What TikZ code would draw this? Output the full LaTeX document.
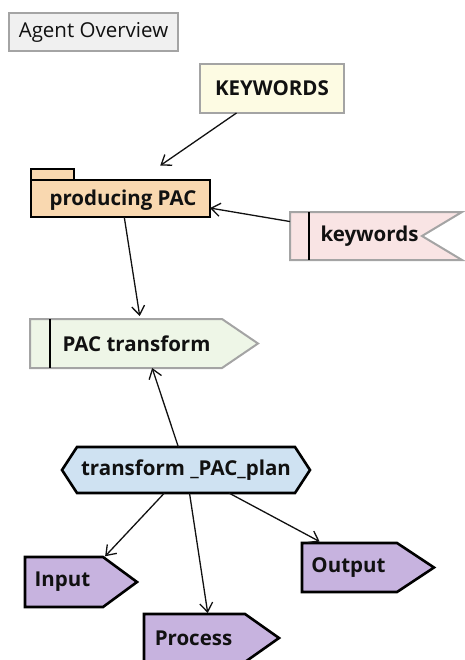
\documentclass[tikz,border=0pt]{standalone}
\usepackage{fontspec}
\setmainfont{Open Sans}
\usetikzlibrary{arrows.meta,backgrounds}

\definecolor{ovfill}{HTML}{F0F0F0}
\definecolor{grayline}{HTML}{A4A4A4}
\definecolor{notefill}{HTML}{FDFBE3}
\definecolor{pkgfill}{HTML}{F9D8B0}
\definecolor{pinkfill}{HTML}{F9E4E4}
\definecolor{greenfill}{HTML}{EEF6E7}
\definecolor{bluefill}{HTML}{CFE2F2}
\definecolor{purplefill}{HTML}{C7B3DF}
\definecolor{ink}{HTML}{111111}

\begin{document}
\begin{tikzpicture}[x=1pt,y=-1pt,
  frame/.style={rectangle, inner sep=0pt, outer sep=0pt},
  txt/.style={font=\bfseries\fontsize{20.5}{24}\selectfont, text=ink},
  grayedge/.style={draw=grayline, line width=2pt, line join=miter},
  blackedge/.style={draw=black, line width=2.6pt, line join=miter},
  bar/.style={draw=black, line width=2.6pt},
  conn/.style={draw=ink, line width=1.3pt,
    -{Straight Barb[length=9pt,width=13pt,line width=1.3pt]}}
]
\useasboundingbox (0,0) rectangle (464,660);

% title box
\node[frame, minimum width=169pt, minimum height=38pt, fill=ovfill,
      draw=grayline, line width=1.5pt, text=ink,
      font=\fontsize{20.5}{24}\selectfont] (ov) at (93.5,32) {Agent Overview};

% note
\node[frame, minimum width=144pt, minimum height=49pt, fill=notefill,
      grayedge, txt] (KW) at (272,88.5) {KEYWORDS};

% package
\node[frame, minimum width=179pt, minimum height=48pt,
      label={[txt, xshift=2.5pt, yshift=-7pt]center:producing PAC}] (pp) at (120.5,193) {};

% accept-event (notched) signal
\node[frame, minimum width=172pt, minimum height=48pt,
      label={[txt, xshift=-6.5pt]center:keywords}] (kw) at (376,236) {};

% send signal
\node[frame, minimum width=228pt, minimum height=49pt,
      label={[txt, xshift=-7.5pt]center:PAC transform}] (pt) at (144,343.5) {};

% hexagon
\node[frame, minimum width=248pt, minimum height=46pt,
      label={[txt]center:transform \_PAC\_plan}] (tp) at (186,470) {};

% output pentagons
\node[frame, minimum width=112pt, minimum height=50pt,
      label={[txt, xshift=-18.5pt]center:Input}] (in) at (81,582) {};
\node[frame, minimum width=135pt, minimum height=48pt,
      label={[txt, xshift=-18pt]center:Process}] (pr) at (211.5,638) {};
\node[frame, minimum width=132pt, minimum height=49pt,
      label={[txt, xshift=-19.5pt]center:Output}] (out) at (368,567.5) {};

\begin{scope}[on background layer]
  % package body and tab
  \path[fill=pkgfill, blackedge] ([yshift=-11pt]pp.north west) -- ([yshift=-11pt]pp.north east)
       -- (pp.south east) -- (pp.south west) -- cycle;
  \path[fill=pkgfill, blackedge] (pp.north west) rectangle ([xshift=43pt,yshift=-11pt]pp.north west);
  % notched signal
  \path[fill=pinkfill, grayedge] (kw.north west) -- (kw.north east) -- ([xshift=-40pt]kw.east)
       -- (kw.south east) -- (kw.south west) -- cycle;
  \draw[bar] ([xshift=19pt]kw.north west) -- ([xshift=19pt]kw.south west);
  % send signal
  \path[fill=greenfill, grayedge] (pt.north west) -- ([xshift=-36pt]pt.north east) -- (pt.east)
       -- ([xshift=-36pt]pt.south east) -- (pt.south west) -- cycle;
  \draw[bar] ([xshift=20pt]pt.north west) -- ([xshift=20pt]pt.south west);
  % hexagon
  \path[fill=bluefill, blackedge] (tp.west) -- ([xshift=15pt]tp.north west) -- ([xshift=-15pt]tp.north east)
       -- (tp.east) -- ([xshift=-15pt]tp.south east) -- ([xshift=15pt]tp.south west) -- cycle;
  % pentagons
  \path[fill=purplefill, blackedge] (in.north west) -- ([xshift=-34pt]in.north east) -- (in.east)
       -- ([xshift=-34pt]in.south east) -- (in.south west) -- cycle;
  \path[fill=purplefill, blackedge] (pr.north west) -- ([xshift=-34pt]pr.north east) -- (pr.east)
       -- ([xshift=-34pt]pr.south east) -- (pr.south west) -- cycle;
  \path[fill=purplefill, blackedge] (out.north west) -- ([xshift=-37pt]out.north east) -- (out.east)
       -- ([xshift=-37pt]out.south east) -- (out.south west) -- cycle;
\end{scope}

% connectors
\draw[conn, shorten >=6pt] (KW) -- (pp);
\draw[conn] (kw) -- (pp);
\draw[conn, shorten >=3pt] (pp) -- (pt);
\draw[conn] (tp) -- (pt);
\draw[conn, shorten >=1pt] (tp) -- (in);
\draw[conn, shorten >=1pt] (tp) -- (pr);
\draw[conn, shorten >=3pt] (tp) -- (out);
\end{tikzpicture}
\end{document}
